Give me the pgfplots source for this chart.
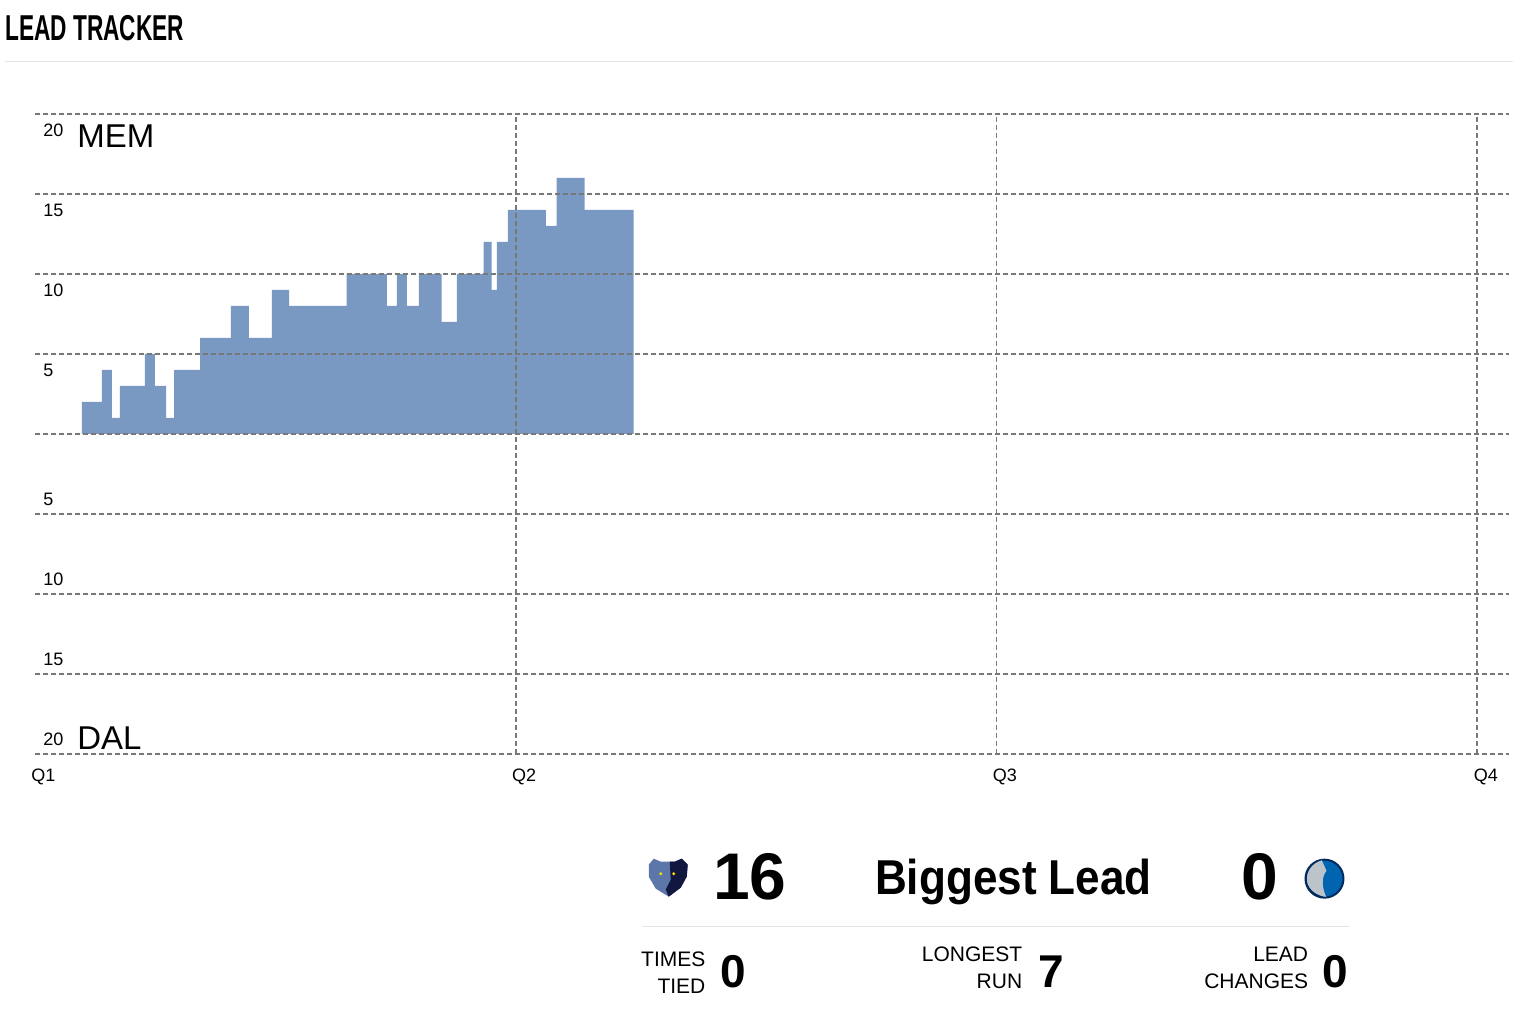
\documentclass[border=0pt]{standalone}
\usepackage{pgfplots}
\pgfplotsset{compat=1.18}
\usepackage{fontspec}
\setmainfont{Liberation Sans}
\definecolor{leadfill}{RGB}{122,153,194}
\definecolor{gridgray}{RGB}{120,120,120}
\definecolor{sepgray}{RGB}{229,229,229}
\definecolor{bearlight}{RGB}{93,118,169}
\definecolor{bearnavy}{RGB}{18,23,63}
\definecolor{mavblue}{RGB}{0,100,177}
\definecolor{mavnavy}{RGB}{0,43,94}
\definecolor{mavsilver}{RGB}{187,196,202}
\begin{document}
\begin{tikzpicture}
\begin{axis}[
  at={(17.5pt,-377pt)}, anchor=south west,
  scale only axis, width=737.5pt, height=320pt,
  xmin=0, xmax=36.8, ymin=-20, ymax=20,
  axis line style={draw=none},
  major tick length=0pt,
  xtick={12,24,36}, xticklabels={Q2,Q3,Q4},
  extra x ticks={0}, extra x tick labels={Q1},
  extra x tick style={xmajorgrids=false},
  xmajorgrids=true,
  ytick={-20,-15,...,20}, yticklabels={},
  ymajorgrids=true,
  grid style={gridgray, line width=0.9pt, dash pattern=on 2.5pt off 1.5pt},
  axis on top,
  xticklabel style={font=\fontsize{9}{10}\selectfont, anchor=base west, inner sep=0pt, xshift=-2pt, yshift=-14pt},
  clip=false,
]
\addplot[const plot mark left, fill=leadfill, draw=none] coordinates {
(1.17,0) (1.17,2) (1.67,4) (1.92,1) (2.12,3) (2.74,5) (2.99,3) (3.27,1)
(3.47,4) (4.12,6) (4.89,8) (5.34,6) (5.91,9) (6.34,8) (7.78,10) (8.78,8)
(9.03,10) (9.28,8) (9.58,10) (10.15,7) (10.53,10) (11.20,12) (11.40,9)
(11.53,12) (11.80,14) (12.75,13) (13.02,16) (13.72,14) (14.94,14) (14.94,0)
} -- cycle;
\end{axis}
\begin{scope}[x=0.5pt, y=-0.5pt]
\path (0,0) rectangle (1514,1028);
% title
\node[anchor=base west, inner sep=0pt] at (5,41) {\scalebox{0.63}[1]{\fontsize{18}{20}\selectfont\bfseries LEAD TRACKER}};
\draw[sepgray, line width=0.6pt] (5,61.5) -- (1514,61.5);
% y labels
\foreach \v/\py in {20/114,15/194,10/274,5/354}{
  \node[anchor=base west, inner sep=0pt, font=\fontsize{9}{10}\selectfont] at (43,\py+23) {\v};
}
\foreach \v/\py in {5/514,10/594,15/674,20/754}{
  \node[anchor=base west, inner sep=0pt, font=\fontsize{9}{10}\selectfont] at (43,\py-8) {\v};
}
\node[anchor=base west, inner sep=0pt, font=\fontsize{16.5}{18}\selectfont] at (77,148) {MEM};
\node[anchor=base west, inner sep=0pt, font=\fontsize{16.5}{18}\selectfont] at (77,750) {DAL};
% bottom summary
\begin{scope}[shift={(668,878)}]
  \fill[bearlight] (-19,-13) -- (-14,-19) -- (-7,-16) -- (7,-16) -- (14,-19) -- (20,-13) -- (19,-1) -- (13,10) -- (1,19) -- (-12,11) -- (-19,-1) -- cycle;
  \fill[bearnavy] (2,-16) -- (7,-16) -- (14,-19) -- (20,-13) -- (19,-1) -- (13,10) -- (1,19) -- (-2,12) -- (3,2) -- cycle;
  \fill[yellow!80!orange] (-7,-4) circle (1.6);
  \fill[yellow!80!orange] (6,-4) circle (1.6);
\end{scope}
\begin{scope}[shift={(1325,879)}]
  \fill[mavblue] (0,0) circle (19);
  \draw[mavnavy, line width=1pt] (0,0) circle (19);
  \fill[mavsilver] (-3,-19) .. controls (-14,-16) and (-20,-6) .. (-18,4) .. controls (-16,12) and (-8,18) .. (2,19) .. controls (-2,10) and (-4,0) .. (2,-8) -- cycle;
  \draw[mavnavy, line width=0.6pt] (-3,-19) .. controls (-14,-16) and (-20,-6) .. (-18,4) .. controls (-16,12) and (-8,18) .. (2,19);
\end{scope}
\node[anchor=base west, inner sep=0pt, font=\fontsize{33}{36}\selectfont\bfseries] at (713,900) {16};
\node[anchor=base west, inner sep=0pt] at (875,895) {\scalebox{0.9}[1]{\fontsize{24.5}{28}\selectfont\bfseries Biggest Lead}};
\node[anchor=base east, inner sep=0pt, font=\fontsize{33}{36}\selectfont\bfseries] at (1279,900) {0};
\draw[sepgray, line width=0.6pt] (642,926.5) -- (1350,926.5);
\foreach \a/\b/\bx/\by/\dy/\n/\nx in {TIMES/TIED/706/967/994/0/720, LONGEST/RUN/1023/962/989/7/1038, LEAD/CHANGES/1309/962/989/0/1323}{
  \node[anchor=base east, inner sep=0pt, font=\fontsize{10.5}{12}\selectfont] at (\bx,\by) {\a};
  \node[anchor=base east, inner sep=0pt, font=\fontsize{10.5}{12}\selectfont] at (\bx,\dy) {\b};
  \node[anchor=base west, inner sep=0pt, font=\fontsize{23}{26}\selectfont\bfseries] at (\nx,988) {\n};
}
\end{scope}
\end{tikzpicture}
\end{document}
